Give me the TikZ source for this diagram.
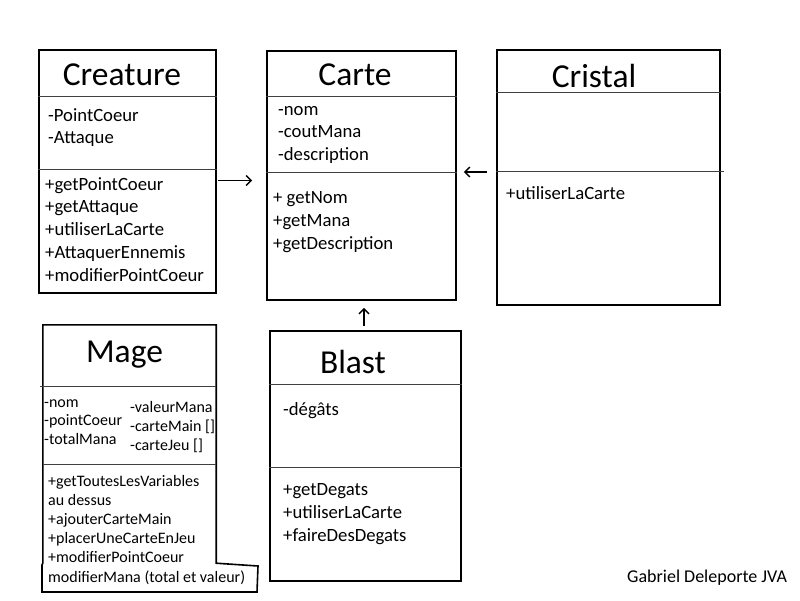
\documentclass[tikz,border=0pt]{standalone}
\usepackage{fontspec}
\setmainfont{Carlito}
\usetikzlibrary{arrows.meta}
\tikzset{
  classbox/.style    = {draw, line width=1.6pt, rectangle, inner sep=0pt},
  classname/.style   = {font=\fontsize{33.5}{40}\selectfont, anchor=base, inner sep=0pt},
  member/.style      = {font=\fontsize{18.7}{23}\selectfont, anchor=base west, inner sep=0pt},
  smallmember/.style = {member, font=\fontsize{16}{19}\selectfont},
  divider/.style     = {draw=black!75, line width=1.3pt},
  link/.style        = {->, line width=1.4pt}
}
\newcommand{\classline}[2]{\draw[divider] ([yshift=-#2pt]#1.north west) -- ([yshift=-#2pt]#1.north east);}

\begin{document}
\begin{tikzpicture}[x=1pt, y=-1pt, >={Straight Barb[length=5pt,width=10pt]}]
\fill[white] (0,0) rectangle (800,600);
\useasboundingbox (0,0) rectangle (800,600);

% the class boxes
\node[classbox, minimum width=177pt, minimum height=243pt] (creature) at (127.5,171.5) {};
\node[classbox, minimum width=189pt, minimum height=249pt] (carte) at (361.5,175.5) {};
\node[classbox, minimum width=223pt, minimum height=255pt] (cristal) at (608.5,177.5) {};
\node[classbox, minimum width=191pt, minimum height=250pt] (blast) at (365.5,456) {};
\node[minimum width=173pt, minimum height=238pt, inner sep=0pt] (mage) at (129.5,444) {};
\draw[line width=1.6pt] (mage.north west) -- (mage.north east) -- (mage.south east)
  -- (258,566) -- (257,592) -- (42,592) -- (42,565) -- (mage.south west) -- cycle;

% names
\node[classname] (creaturename) at (122,85) {Creature};
\node[classname] (cartename) at (355,85) {Carte};
\node[classname] (cristalname) at (594,87) {Cristal};
\node[classname] (magename) at (124.5,362) {Mage};
\node[classname] (blastname) at (353,373) {Blast};

% compartments
\classline{creature}{47}
\classline{creature}{120}
\classline{carte}{46}
\classline{carte}{122}
\classline{cristal}{43}
\draw[divider] ([yshift=-122pt]cristal.north west) -- ([shift={(3pt,-122pt)}]cristal.north east);
\classline{blast}{54}
\classline{blast}{137}
\draw[divider] ([shift={(-3pt,-62pt)}]mage.north west) -- ([yshift=-62pt]mage.north east);
\classline{mage}{140}

% Creature
\foreach \txt [count=\i] in {-PointCoeur,-Attaque}
  \node[member] (creatureattr\i) at (48,{121+22.6*(\i-1)}) {\txt};
\foreach \txt [count=\i] in {+getPointCoeur,+getAttaque,+utiliserLaCarte,+AttaquerEnnemis,+modifierPointCoeur}
  \node[member] (creatureop\i) at (45,{190+22.8*(\i-1)}) {\txt};

% Carte
\foreach \txt [count=\i] in {-nom,-coutMana,-description}
  \node[member] (carteattr\i) at (278,{115+22.6*(\i-1)}) {\txt};
\foreach \txt [count=\i] in {+ getNom,+getMana,+getDescription}
  \node[member] (carteop\i) at (273,{203+23*(\i-1)}) {\txt};

% Cristal
\node[member] (cristalop1) at (506,199) {+utiliserLaCarte};

% Mage
\foreach \txt [count=\i] in {-nom,-pointCoeur,-totalMana}
  \node[smallmember] (mageattr\i) at (44,{407+18.5*(\i-1)}) {\txt};
\foreach \txt [count=\i] in {-valeurMana,-carteMain [],-carteJeu []}
  \node[smallmember] (mageattrb\i) at (130,{412+19*(\i-1)}) {\txt};
\foreach \txt [count=\i] in {+getToutesLesVariables,au dessus,+ajouterCarteMain,+placerUneCarteEnJeu,+modifierPointCoeur,modifierMana (total et valeur)}
  \node[smallmember] (mageop\i) at (48,{486+19.2*(\i-1)}) {\txt};

% Blast
\node[member] (blastattr1) at (283,415) {-dégâts};
\foreach \txt [count=\i] in {+getDegats,+utiliserLaCarte,+faireDesDegats}
  \node[member] (blastop\i) at (283,{495+23*(\i-1)}) {\txt};

% links to Carte
\coordinate (creaturelink) at ([shift={(1,9)}]creature.east);
\coordinate (cristallink) at ([shift={(-9,-5.5)}]cristal.west);
\coordinate (blastlink) at ([shift={(-1.5,-4)}]blast.north);
\draw[link, shorten >=14pt] (creaturelink) -- (creaturelink -| carte.west);
\draw[link, shorten >=7pt] (cristallink) -- (cristallink -| carte.east);
\draw[link, shorten >=7pt] (blastlink) -- (blastlink |- carte.south);

\node[font=\fontsize{18}{22}\selectfont, anchor=base west, inner sep=0pt] (author) at (627,582) {Gabriel Deleporte JVA};
\end{tikzpicture}
\end{document}
